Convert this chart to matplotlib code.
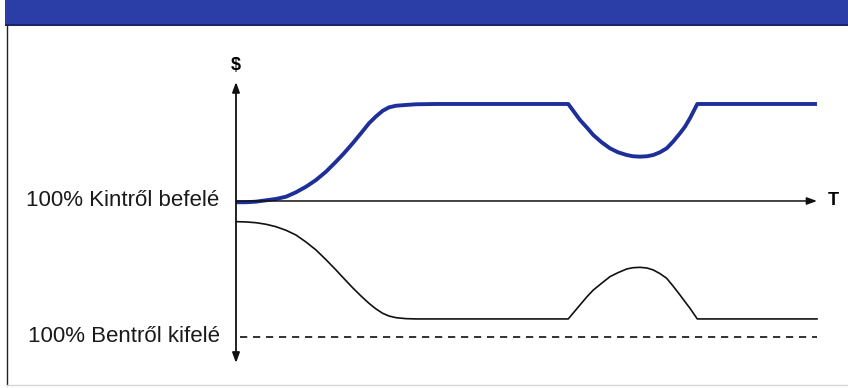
import matplotlib.pyplot as plt
from matplotlib.patches import Rectangle

plt.rcParams['font.family'] = ['Liberation Sans', 'DejaVu Sans']

# time (T) and $ values
t_rise = [0, 1.72, 3.44, 5.16, 6.88, 8.61, 10.33, 12.05, 13.77, 15.49, 17.21,
          18.59, 20.09, 21.51, 22.89, 24.10, 25.25, 26.33, 27.54, 29.26, 30.98, 34.42]
t_dip = [57.19, 59.21, 60.41, 61.50, 62.94, 64.37, 65.75, 67.25, 68.33, 69.54,
         70.74, 71.82, 72.98, 74.13, 75.22, 76.42, 77.28, 78.14, 79.40, 100]

v_in = [-0.013, -0.013, -0.007, 0.007, 0.021, 0.044, 0.090, 0.147, 0.216, 0.302, 0.405,
        0.492, 0.595, 0.698, 0.801, 0.872, 0.930, 0.965, 0.982, 0.990, 0.997, 1.0,
        1.0, 0.835, 0.756, 0.680, 0.605, 0.543, 0.502, 0.474, 0.461, 0.457,
        0.461, 0.474, 0.502, 0.543, 0.611, 0.698, 0.766, 0.853, 1.0, 1.0]

v_out = [-0.213, -0.216, -0.224, -0.240, -0.265, -0.302, -0.351, -0.423, -0.505, -0.605, -0.711,
         -0.800, -0.895, -0.979, -1.055, -1.113, -1.158, -1.186, -1.203, -1.213, -1.216, -1.216,
         -1.216, -1.072, -0.987, -0.918, -0.848, -0.780, -0.739, -0.701, -0.688, -0.684,
         -0.691, -0.711, -0.749, -0.797, -0.876, -0.969, -1.038, -1.106, -1.216, -1.216]

t_all = t_rise + t_dip
full_out = -1.402
t_max = 100
label_in = '100% Kintről befelé'
label_out = '100% Bentről kifelé'

fig = plt.figure(figsize=(8.48, 3.88), dpi=100)
ax = fig.add_axes([0, 0, 1, 1])
ax.set_xlim(-40.62, 105.34)
ax.set_ylim(-1.928, 2.072)
ax.axis('off')

# header band and panel frame
fig.patches.append(Rectangle((5 / 848, 1 - 25 / 388), 1, 25 / 388, transform=fig.transFigure,
                             facecolor='#2b3da6', edgecolor='none'))
fig.patches.append(Rectangle((5 / 848, 1 - 26 / 388), 1, 2 / 388, transform=fig.transFigure,
                             facecolor='#1b2466', edgecolor='none'))
fig.add_artist(plt.Line2D([7 / 848, 7 / 848], [3 / 388, 1 - 26 / 388], transform=fig.transFigure,
                          color='#222222', lw=1.0))
fig.add_artist(plt.Line2D([7 / 848, 1], [3 / 388, 3 / 388], transform=fig.transFigure,
                          color='#d5d5d5', lw=1.0))

# axes arrows
ax.annotate('', xy=(0, 1.227), xytext=(0, -1.67),
            arrowprops=dict(arrowstyle='<|-|>,head_length=0.6,head_width=0.22', color='#111111', lw=1.3,
                            shrinkA=0, shrinkB=0))
ax.annotate('', xy=(t_max, 0), xytext=(0, 0),
            arrowprops=dict(arrowstyle='-|>,head_length=0.6,head_width=0.22', color='#111111', lw=1.1,
                            shrinkA=0, shrinkB=0))
ax.text(0, 1.40, '$', fontsize=13, fontweight='bold', ha='center', va='center')
ax.text(102.8, 0, 'T', fontsize=13, fontweight='bold', ha='center', va='center')

# curves
ax.plot([0.7, t_max], [full_out, full_out], color='#222222', lw=1.3, ls=(0, (4, 3.2)))
ax.plot(t_all, v_out, color='#111111', lw=1.2, solid_joinstyle='round')
ax.plot(t_all, v_in, color='#1f2f99', lw=2.8, solid_joinstyle='round', solid_capstyle='butt')

ax.text(-2.8, 0, label_in, fontsize=16, ha='right', va='center', color='#1a1a1a')
ax.text(-2.8, full_out, label_out, fontsize=16, ha='right', va='center', color='#1a1a1a')

fig.savefig('out.png', dpi=100)
